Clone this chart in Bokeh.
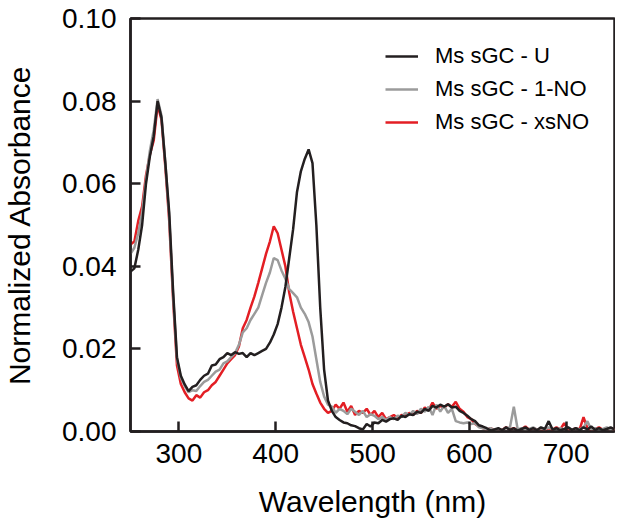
from bokeh.plotting import figure
from bokeh.models import Legend, LegendItem, FixedTicker, NumeralTickFormatter, Range1d
from bokeh.embed import file_html
from bokeh.resources import INLINE

wavelength = list(range(250, 751, 4))

ms_u = [
    0.0387, 0.0395, 0.0440, 0.0500, 0.0600, 0.0666, 0.0715, 0.0800, 0.0760, 0.0650,
    0.0530, 0.0340, 0.0180, 0.0135, 0.0114, 0.0098, 0.0108, 0.0112, 0.0125, 0.0135,
    0.0140, 0.0160, 0.0162, 0.0175, 0.0180, 0.0190, 0.0185, 0.0192, 0.0188, 0.0190,
    0.0180, 0.0190, 0.0185, 0.0190, 0.0195, 0.0200, 0.0215, 0.0235, 0.0260, 0.0300,
    0.0350, 0.0420, 0.0490, 0.0580, 0.0630, 0.0660, 0.0683, 0.0650, 0.0500, 0.0300,
    0.0150, 0.0075, 0.0050, 0.0035, 0.0028, 0.0022, 0.0020, 0.0015, 0.0013, 0.0008,
    0.0005, 0.0018, 0.0012, 0.0022, 0.0020, 0.0028, 0.0024, 0.0030, 0.0032, 0.0028,
    0.0038, 0.0035, 0.0042, 0.0040, 0.0048, 0.0045, 0.0055, 0.0050, 0.0062, 0.0058,
    0.0065, 0.0060, 0.0066, 0.0058, 0.0060, 0.0050, 0.0045, 0.0038, 0.0030, 0.0025,
    0.0015, 0.0012, 0.0008, 0.0002, 0.0005, 0.0008, 0.0003, 0.0010, 0.0004, 0.0008,
    0.0002, 0.0006, 0.0010, 0.0004, 0.0008, 0.0003, 0.0010, 0.0006, 0.0025, 0.0005,
    0.0008, 0.0003, 0.0006, 0.0010, 0.0004, 0.0008, 0.0003, 0.0010, 0.0005, 0.0012,
    0.0004, 0.0008, 0.0003, 0.0006, 0.0010, 0.0005,
]

ms_1no = [
    0.0430, 0.0445, 0.0480, 0.0530, 0.0610, 0.0680, 0.0730, 0.0805, 0.0765, 0.0650,
    0.0520, 0.0330, 0.0175, 0.0130, 0.0110, 0.0095, 0.0100, 0.0098, 0.0110, 0.0120,
    0.0125, 0.0135, 0.0145, 0.0150, 0.0165, 0.0170, 0.0180, 0.0190, 0.0210, 0.0240,
    0.0250, 0.0270, 0.0285, 0.0300, 0.0330, 0.0360, 0.0385, 0.0420, 0.0415, 0.0390,
    0.0370, 0.0345, 0.0335, 0.0325, 0.0300, 0.0285, 0.0265, 0.0230, 0.0175, 0.0120,
    0.0085, 0.0065, 0.0060, 0.0045, 0.0055, 0.0050, 0.0042, 0.0055, 0.0048, 0.0040,
    0.0050, 0.0035, 0.0042, 0.0038, 0.0030, 0.0035, 0.0028, 0.0035, 0.0030, 0.0038,
    0.0035, 0.0045, 0.0040, 0.0050, 0.0042, 0.0055, 0.0048, 0.0060, 0.0040, 0.0065,
    0.0048, 0.0062, 0.0045, 0.0055, 0.0025, 0.0022, 0.0020, 0.0022, 0.0018, 0.0020,
    0.0010, 0.0008, 0.0005, 0.0008, 0.0003, 0.0006, 0.0004, 0.0008, 0.0010, 0.0060,
    0.0005, 0.0008, 0.0004, 0.0006, 0.0010, 0.0004, 0.0008, 0.0005, 0.0010, 0.0006,
    0.0004, 0.0008, 0.0005, 0.0010, 0.0004, 0.0008, 0.0005, 0.0010, 0.0025, 0.0005,
    0.0008, 0.0004, 0.0006, 0.0010, 0.0004, 0.0006,
]

ms_xsno = [
    0.0453, 0.0460, 0.0510, 0.0545, 0.0620, 0.0670, 0.0705, 0.0790, 0.0755, 0.0640,
    0.0510, 0.0320, 0.0160, 0.0115, 0.0095, 0.0080, 0.0075, 0.0088, 0.0082, 0.0095,
    0.0100, 0.0112, 0.0120, 0.0135, 0.0150, 0.0165, 0.0175, 0.0185, 0.0206, 0.0250,
    0.0270, 0.0300, 0.0327, 0.0360, 0.0395, 0.0430, 0.0460, 0.0497, 0.0480, 0.0440,
    0.0400, 0.0336, 0.0290, 0.0250, 0.0210, 0.0180, 0.0150, 0.0115, 0.0092, 0.0070,
    0.0055, 0.0045, 0.0050, 0.0065, 0.0055, 0.0070, 0.0048, 0.0062, 0.0040, 0.0050,
    0.0045, 0.0055, 0.0040, 0.0050, 0.0035, 0.0045, 0.0030, 0.0035, 0.0040, 0.0032,
    0.0040, 0.0038, 0.0045, 0.0040, 0.0050, 0.0045, 0.0058, 0.0052, 0.0070, 0.0055,
    0.0062, 0.0058, 0.0066, 0.0060, 0.0072, 0.0055, 0.0048, 0.0035, 0.0030, 0.0018,
    0.0012, 0.0008, 0.0004, 0.0008, 0.0003, 0.0006, 0.0004, 0.0010, 0.0005, 0.0008,
    0.0003, 0.0006, 0.0012, 0.0004, 0.0008, 0.0005, 0.0006, 0.0003, 0.0008, 0.0004,
    0.0010, 0.0005, 0.0020, 0.0006, 0.0004, 0.0008, 0.0005, 0.0035, 0.0008, 0.0004,
    0.0006, 0.0010, 0.0004, 0.0008, 0.0003, 0.0006,
]

series_labels = ["Ms sGC - U", "Ms sGC - 1-NO", "Ms sGC - xsNO"]
x_ticks = [300, 400, 500, 600, 700]
y_ticks = [0.0, 0.02, 0.04, 0.06, 0.08, 0.10]

FONT = "Liberation Sans"
BLACK = "#231f20"
GRAY = "#9b9b9b"
RED = "#e31e24"

p = figure(frame_width=484, frame_height=413, output_backend="svg", toolbar_location=None,
           x_range=Range1d(250, 750), y_range=Range1d(0, 0.1),
           min_border_left=123, min_border_right=1, min_border_top=18,
           min_border_bottom=84)
p.background_fill_color = "white"
p.border_fill_color = "white"
p.outline_line_color = BLACK
p.outline_line_width = 2.5
p.grid.visible = False

r_red = p.line(wavelength, ms_xsno, line_color=RED, line_width=2.5)
r_gray = p.line(wavelength, ms_1no, line_color=GRAY, line_width=2.5)
r_black = p.line(wavelength, ms_u, line_color=BLACK, line_width=2.5)

for ax in (p.xaxis[0], p.yaxis[0]):
    ax.axis_line_color = BLACK
    ax.axis_line_width = 2.5
    ax.major_tick_line_color = BLACK
    ax.major_tick_line_width = 2.5
    ax.major_tick_in = 10
    ax.major_tick_out = 0
    ax.minor_tick_line_color = None
    ax.major_label_text_font = FONT
    ax.major_label_text_font_size = "28px"
    ax.major_label_text_color = "black"
    ax.axis_label_text_font = FONT
    ax.axis_label_text_font_size = "30px"
    ax.axis_label_text_font_style = "normal"
    ax.axis_label_text_color = "black"

p.xaxis.ticker = FixedTicker(ticks=x_ticks)
p.yaxis.ticker = FixedTicker(ticks=y_ticks)
p.yaxis.formatter = NumeralTickFormatter(format="0.00")
p.xaxis.axis_label = "Wavelength (nm)"
p.yaxis.axis_label = "Normalized Absorbance"
p.xaxis.major_label_standoff = 12
p.yaxis.major_label_standoff = 14
p.xaxis.axis_label_standoff = 19
p.yaxis.axis_label_standoff = 23

legend = Legend(items=[
    LegendItem(label=series_labels[0], renderers=[r_black]),
    LegendItem(label=series_labels[1], renderers=[r_gray]),
    LegendItem(label=series_labels[2], renderers=[r_red]),
], location=(255, 296))
legend.label_text_font = FONT
legend.label_text_font_size = "22px"
legend.label_text_color = "black"
legend.glyph_width = 33
legend.glyph_height = 26
legend.label_height = 26
legend.label_standoff = 17
legend.spacing = 7
legend.padding = 0
legend.margin = 0
legend.border_line_color = None
legend.background_fill_alpha = 0
p.add_layout(legend)

open("out.html", "w").write(file_html(p, INLINE))
